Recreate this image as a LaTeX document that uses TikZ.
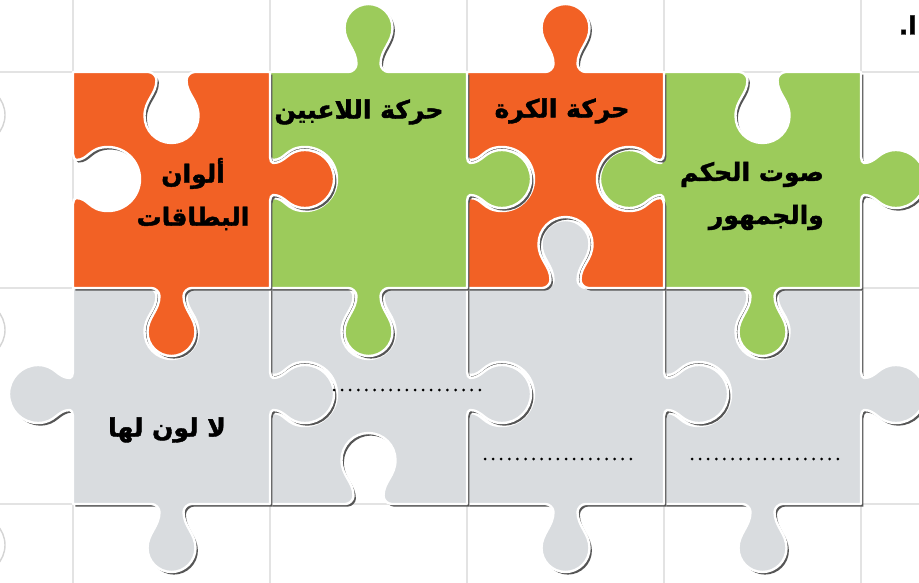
\documentclass[tikz,border=0pt]{standalone}
\usepackage{fontspec}
\newfontfamily\arabicfont[Script=Arabic, BoldFeatures={FakeBold=1.6}]{DejaVu Sans}
\TeXXeTstate=1

\definecolor{pzorange}{HTML}{F26125}
\definecolor{pzgreen}{HTML}{9CCB5B}
\definecolor{pzgray}{HTML}{D9DCDF}
\definecolor{pzgrid}{HTML}{E3E3E3}
\definecolor{pzshade}{HTML}{555555}

% Knob / socket on a horizontal edge.
% #1 edge y, #2 centre x, #3 travel direction (+1 to the right), #4 bulge direction in y,
% #5 neck half-width, #6 neck offset, #7 head radius, #8 head centre offset, #9 flare half-width
\newcommand\hk[9]{%
 -- ({#2-(#3)*(#9)},{#1})
 .. controls ({#2-(#3)*((#9+#5)/2)},{#1}) and ({#2-(#3)*(#5)},{#1+(#4)*(#6)/2}) .. ({#2-(#3)*(#5)},{#1+(#4)*(#6)})
 .. controls ({#2-(#3)*(#5)},{#1+(#4)*(#6+0.4*(#8-#6))}) and ({#2-(#3)*(#7)},{#1+(#4)*(#8-0.6*#7)}) .. ({#2-(#3)*(#7)},{#1+(#4)*(#8)})
 .. controls ({#2-(#3)*(#7)},{#1+(#4)*(#8+0.55*#7)}) and ({#2-(#3)*0.55*(#7)},{#1+(#4)*(#8+#7)}) .. ({#2},{#1+(#4)*(#8+#7)})
 .. controls ({#2+(#3)*0.55*(#7)},{#1+(#4)*(#8+#7)}) and ({#2+(#3)*(#7)},{#1+(#4)*(#8+0.55*#7)}) .. ({#2+(#3)*(#7)},{#1+(#4)*(#8)})
 .. controls ({#2+(#3)*(#7)},{#1+(#4)*(#8-0.6*#7)}) and ({#2+(#3)*(#5)},{#1+(#4)*(#6+0.4*(#8-#6))}) .. ({#2+(#3)*(#5)},{#1+(#4)*(#6)})
 .. controls ({#2+(#3)*(#5)},{#1+(#4)*(#6)/2}) and ({#2+(#3)*((#9+#5)/2)},{#1}) .. ({#2+(#3)*(#9)},{#1})
}
% Same on a vertical edge: #1 edge x, #2 centre y, #3 travel direction (+1 downwards), #4 bulge direction in x
\newcommand\vk[9]{%
 -- ({#1},{#2-(#3)*(#9)})
 .. controls ({#1},{#2-(#3)*((#9+#5)/2)}) and ({#1+(#4)*(#6)/2},{#2-(#3)*(#5)}) .. ({#1+(#4)*(#6)},{#2-(#3)*(#5)})
 .. controls ({#1+(#4)*(#6+0.4*(#8-#6))},{#2-(#3)*(#5)}) and ({#1+(#4)*(#8-0.6*#7)},{#2-(#3)*(#7)}) .. ({#1+(#4)*(#8)},{#2-(#3)*(#7)})
 .. controls ({#1+(#4)*(#8+0.55*#7)},{#2-(#3)*(#7)}) and ({#1+(#4)*(#8+#7)},{#2-(#3)*0.55*(#7)}) .. ({#1+(#4)*(#8+#7)},{#2})
 .. controls ({#1+(#4)*(#8+#7)},{#2+(#3)*0.55*(#7)}) and ({#1+(#4)*(#8+0.55*#7)},{#2+(#3)*(#7)}) .. ({#1+(#4)*(#8)},{#2+(#3)*(#7)})
 .. controls ({#1+(#4)*(#8-0.6*#7)},{#2+(#3)*(#7)}) and ({#1+(#4)*(#6+0.4*(#8-#6))},{#2+(#3)*(#5)}) .. ({#1+(#4)*(#6)},{#2+(#3)*(#5)})
 .. controls ({#1+(#4)*(#6)/2},{#2+(#3)*(#5)}) and ({#1},{#2+(#3)*((#9+#5)/2)}) .. ({#1},{#2+(#3)*(#9)})
}
% top / bottom / right / left edges with a knob (K) or a socket (S)
\newcommand\edgeTK[2]{\hk{#1}{#2}{1}{-1}{12}{8}{24}{44}{20}}
\newcommand\edgeTS[2]{\hk{#1}{#2}{1}{1}{15}{8}{27}{44}{23}}
\newcommand\edgeBK[2]{\hk{#1}{#2}{-1}{1}{12}{8}{24}{44}{20}}
\newcommand\edgeBS[2]{\hk{#1}{#2}{-1}{-1}{15}{8}{27}{44}{23}}
\newcommand\edgeRK[2]{\vk{#1}{#2}{1}{1}{16}{3}{29}{35}{22}}
\newcommand\edgeRS[2]{\vk{#1}{#2}{1}{-1}{19}{3}{32}{35}{25}}
\newcommand\edgeLK[2]{\vk{#1}{#2}{-1}{-1}{16}{3}{29}{35}{22}}
\newcommand\edgeLS[2]{\vk{#1}{#2}{-1}{1}{19}{3}{32}{35}{25}}

% the eight pieces
\newcommand\pzA{(73,72) \edgeTS{72}{171.5} -- (270,72) \edgeRK{270}{179} -- (270,288) \edgeBK{288}{171.5} -- (73,288) \edgeLS{73}{179} -- cycle}
\newcommand\pzB{(270,72) \edgeTK{72}{368.5} -- (467,72) \edgeRK{467}{179} -- (467,288) \edgeBK{288}{368.5} -- (270,288) \edgeLS{270}{179} -- cycle}
\newcommand\pzC{(467,72) \edgeTK{72}{565.5} -- (664,72) \edgeRS{664}{179} -- (664,288) \edgeBS{288}{565.5} -- (467,288) \edgeLS{467}{179} -- cycle}
\newcommand\pzD{(664,72) \edgeTS{72}{762.5} -- (861,72) \edgeRK{861}{179} -- (861,288) \edgeBK{288}{762.5} -- (664,288) \edgeLK{664}{179} -- cycle}
\newcommand\pzE{(73,288) \edgeTS{288}{171.5} -- (270,288) \edgeRK{270}{394} -- (270,504) \edgeBK{504}{171.5} -- (73,504) \edgeLK{73}{394} -- cycle}
\newcommand\pzF{(270,288) \edgeTS{288}{368.5} -- (467,288) \edgeRK{467}{394} -- (467,504) \edgeBS{504}{368.5} -- (270,504) \edgeLS{270}{394} -- cycle}
\newcommand\pzG{(467,288) \edgeTK{288}{565.5} -- (664,288) \edgeRK{664}{394} -- (664,504) \edgeBK{504}{565.5} -- (467,504) \edgeLS{467}{394} -- cycle}
\newcommand\pzH{(664,288) \edgeTS{288}{762.5} -- (861,288) \edgeRK{861}{394} -- (861,504) \edgeBK{504}{762.5} -- (664,504) \edgeLS{664}{394} -- cycle}

\newcommand\putpiece[2]{%
  \fill[pzshade, shift={(2.4,2.6)}] #1;
  \fill[#2] #1;
  \draw[pzedge] #1;
}

\begin{document}
\begin{tikzpicture}[x=1pt, y=-1pt,
  pzedge/.style={draw=white, line width=2.4pt, line join=round},
  gridline/.style={pzgrid, line width=2.5pt},
  ghost/.style={draw=pzgrid!85!gray, line width=1.4pt},
  label/.style={font=\arabicfont\bfseries\fontsize{25}{43}\selectfont, text=black, inner sep=0pt},
  blank/.style={line width=3pt, line cap=round, dash pattern=on 0pt off 8.1pt}]
  \useasboundingbox (0,0) rectangle (919,583);
  \fill[white] (0,0) rectangle (919,583);

  % background tiles
  \foreach \gx in {73,270,467,664,861} \draw[gridline] (\gx,0) -- (\gx,583);
  \foreach \gy in {72,288,504} \draw[gridline] (0,\gy) -- (919,\gy);
  \foreach \gy in {115,330,545} \draw[ghost] (-24,\gy) circle[radius=29];

  % pieces, from the lower right towards the upper left
  \putpiece{\pzH}{pzgray}
  \putpiece{\pzG}{pzgray}
  \putpiece{\pzF}{pzgray}
  \putpiece{\pzE}{pzgray}
  \putpiece{\pzD}{pzgreen}
  \putpiece{\pzC}{pzorange}
  \putpiece{\pzB}{pzgreen}
  \putpiece{\pzA}{pzorange}

  % labels
  \node[label, align=center] (cards) at (193,194) {\beginR ألوان\endR\\\beginR البطاقات\endR};
  \node[label] (players) at (359,112) {\beginR حركة اللاعبين\endR};
  \node[label] (ball) at (562,111) {\beginR حركة الكرة\endR};
  \node[label, align=right, anchor=east] (referee) at (824,196) {\beginR صوت الحكم\endR\\\beginR والجمهور\endR};
  \node[label] (nocolour) at (167,430) {\beginR لا لون لها\endR};
  \node[label, anchor=east] (corner) at (917,25) {\beginR ا.\endR};

  % blanks to be filled in
  \coordinate (b2s) at (334,390); \coordinate (b2e) at (484,390);
  \coordinate (b3s) at (485,459); \coordinate (b3e) at (633,459);
  \coordinate (b4s) at (692,459); \coordinate (b4e) at (840,459);
  \draw[blank] (b2s) -- (b2e);
  \draw[blank] (b3s) -- (b3e);
  \draw[blank] (b4s) -- (b4e);
\end{tikzpicture}
\end{document}
